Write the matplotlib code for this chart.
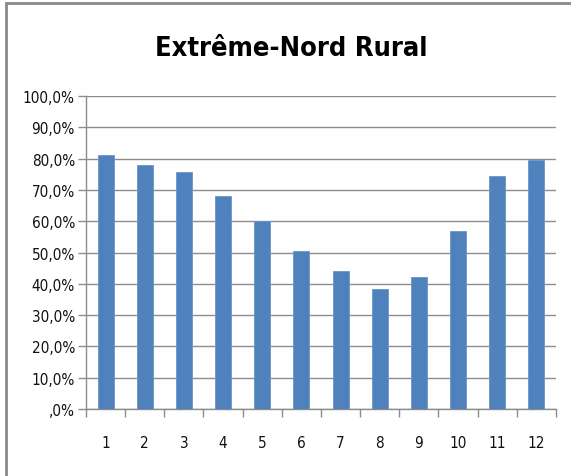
import matplotlib
matplotlib.use("Agg")
import matplotlib.pyplot as plt
from matplotlib.patches import Rectangle
from matplotlib.ticker import FixedLocator, FuncFormatter

plt.rcParams['font.family'] = ['DejaVu Sans Condensed', 'Liberation Sans Narrow', 'DejaVu Sans']
plt.rcParams['font.stretch'] = 'condensed'

months = ['1', '2', '3', '4', '5', '6', '7', '8', '9', '10', '11', '12']
values = [81.0, 78.1, 75.6, 68.1, 60.0, 50.4, 44.0, 38.2, 42.3, 57.0, 74.4, 79.6]
y_ticks = [0, 10, 20, 30, 40, 50, 60, 70, 80, 90, 100]

W, H = 571, 477
fig = plt.figure(figsize=(W / 100, H / 100), dpi=100)
fig.patch.set_facecolor('white')

# outer chart frame (runs off the right and bottom edges)
fig.add_artist(Rectangle((6 / W, -0.05), 1.1, 1.05 - 3.5 / H,
                         transform=fig.transFigure, fill=False,
                         edgecolor='#8a8a8a', linewidth=2))

ax = fig.add_axes([86 / W, (H - 410) / H, (556 - 86) / W, (410 - 97) / H])
x = list(range(len(months)))
ax.bar(x, values, width=0.41, color='#4f81bd', edgecolor='#6a96cc',
       linewidth=0.6, zorder=3)

ax.set_xlim(-0.5, len(months) - 0.5)
ax.set_ylim(0, 100)
ax.set_yticks(y_ticks)
ax.yaxis.set_major_formatter(FuncFormatter(
    lambda v, p: ',0%' if v == 0 else f'{v:.1f}%'.replace('.', ',')))
ax.grid(axis='y', color='#8c8c8c', linewidth=1.0, zorder=0)

ax.set_xticks(x)
ax.set_xticklabels(months)
ax.xaxis.set_minor_locator(FixedLocator([i - 0.5 for i in range(len(months) + 1)]))
ax.tick_params(axis='x', which='major', length=0, pad=19, labelsize=11, labelcolor='#111111')
ax.tick_params(axis='x', which='minor', length=6, color='#8c8c8c', width=1)
ax.tick_params(axis='y', length=6, color='#8c8c8c', width=1, pad=2,
               labelsize=11, labelcolor='#111111')

for side in ('top', 'right'):
    ax.spines[side].set_visible(False)
for side in ('left', 'bottom'):
    ax.spines[side].set_color('#8c8c8c')
    ax.spines[side].set_linewidth(1.0)

fig.text(291 / W, 1 - 49 / H, 'Extrême-Nord Rural', ha='center', va='center',
         fontsize=19.5, fontweight='bold', color='black')

fig.savefig('out.png', dpi=100)
